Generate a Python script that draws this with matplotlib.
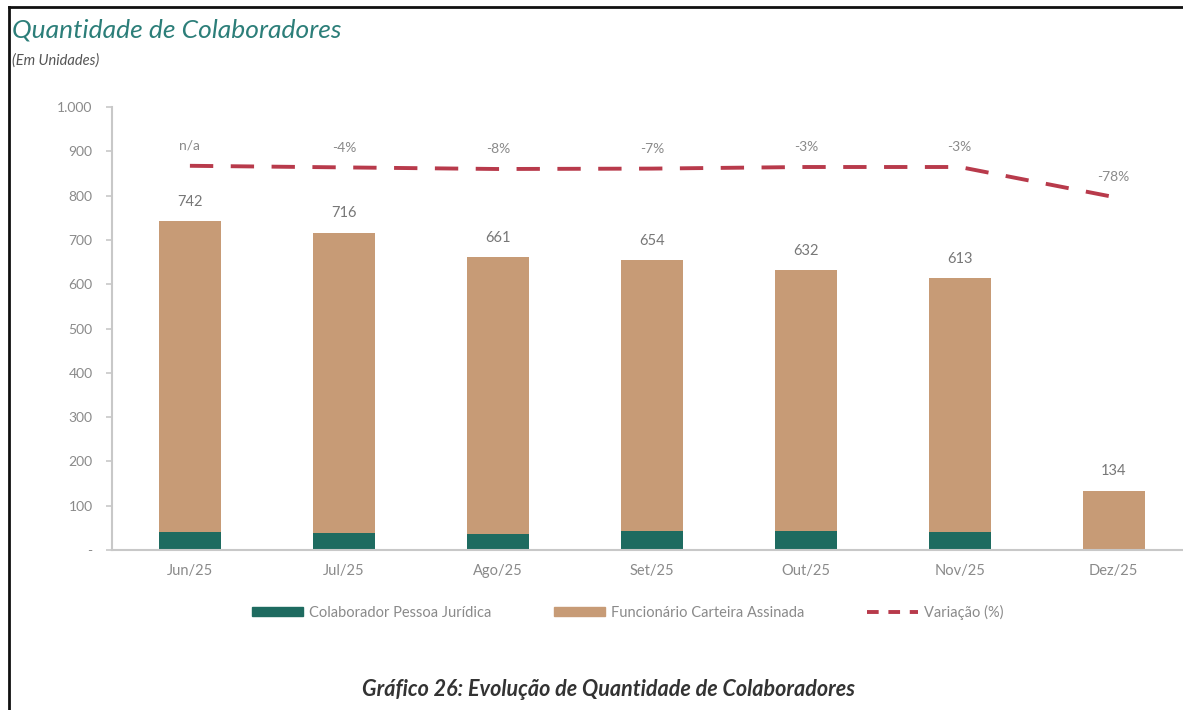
import matplotlib
matplotlib.use("Agg")
import matplotlib.pyplot as plt
from matplotlib.lines import Line2D
from matplotlib.patches import Patch
import numpy as np

plt.rcParams['font.family'] = ['Lato', 'DejaVu Sans']

categories = ['Jun/25', 'Jul/25', 'Ago/25', 'Set/25', 'Out/25', 'Nov/25', 'Dez/25']
pessoa_juridica = [41, 38, 36, 42, 42, 41, 0]
totais = [742, 716, 661, 654, 632, 613, 134]
carteira_assinada = [t - p for t, p in zip(totais, pessoa_juridica)]
variacao = [0, -4, -8, -7, -3, -3, -78]
variacao_labels = ['n/a', '-4%', '-8%', '-7%', '-3%', '-3%', '-78%']
yticks = [0, 100, 200, 300, 400, 500, 600, 700, 800, 900, 1000]
ytick_labels = ['-', '100', '200', '300', '400', '500', '600', '700', '800', '900', '1.000']

TEAL = '#1E6B60'
TAN = '#C79B76'
RED = '#B83A4B'
GRAY = '#8a8a8a'

W, H = 1183, 710
fig = plt.figure(figsize=(W / 100, H / 100), dpi=100)

ax = fig.add_axes([112 / W, (H - 550) / H, (W - 112) / W, 443 / H])
x = np.arange(len(categories))
bw = 0.40
ax.bar(x, pessoa_juridica, bw, color=TEAL, zorder=2)
ax.bar(x, carteira_assinada, bw, bottom=pessoa_juridica, color=TAN, zorder=2)
for xi, t in zip(x, totais):
    ax.annotate(f'{t}', (xi, t), xytext=(0, 9), textcoords='offset points',
                ha='center', va='bottom', fontsize=10.5, color='#777777')

ax.set_xlim(-0.506, 6.45)
ax.set_ylim(0, 1000)
ax.set_yticks(yticks)
ax.set_yticklabels(ytick_labels)
ax.set_xticks(x)
ax.set_xticklabels(categories)
for s in ['top', 'right']:
    ax.spines[s].set_visible(False)
for s in ['left', 'bottom']:
    ax.spines[s].set_color('#c8c8c8')
    ax.spines[s].set_linewidth(1.5)
ax.tick_params(axis='y', colors='#c8c8c8', length=4, width=1.2, labelcolor=GRAY,
               labelsize=10, pad=10)
ax.tick_params(axis='x', length=0, labelcolor=GRAY, labelsize=10.5, pad=10)

ax2 = ax.twinx()
ax2.set_ylim(-960.5, 147)
ax2.plot(x, variacao, color=RED, lw=2.8, dashes=(6, 4.5), zorder=3)
for xi, v, lab in zip(x, variacao, variacao_labels):
    ax2.annotate(lab, (xi, v), xytext=(0, 10), textcoords='offset points',
                 ha='center', va='bottom', fontsize=10, color=GRAY)
ax2.axis('off')

handles = [Patch(color=TEAL), Patch(color=TAN),
           Line2D([0], [0], color=RED, lw=2.8, dashes=(3, 2.5))]
labels = ['Colaborador Pessoa Jurídica', 'Funcionário Carteira Assinada', 'Variação (%)']
fig.legend(handles, labels, loc='center', bbox_to_anchor=(628 / W, (H - 612) / H),
           ncol=3, frameon=False, fontsize=10.5, labelcolor=GRAY,
           handlelength=3.5, handleheight=0.55, columnspacing=4.3, handletextpad=0.4)

fig.text(12 / W, (H - 30) / H, 'Quantidade de Colaboradores', fontsize=19,
         style='italic', color='#2C7E79', va='center', ha='left')
fig.text(12 / W, (H - 61) / H, '(Em Unidades)', fontsize=10.5, style='italic',
         color='#555555', va='center', ha='left')
fig.text(608 / W, (H - 690) / H, 'Gráfico 26: Evolução de Quantidade de Colaboradores',
         fontsize=15.5, style='italic', weight='bold', color='#333333',
         va='center', ha='center')

# page frame lines
fig.add_artist(Line2D([9 / W, 1], [(H - 7) / H, (H - 7) / H], color='#111111', lw=2))
fig.add_artist(Line2D([9 / W, 9 / W], [0, (H - 7) / H], color='#111111', lw=2))

fig.savefig('out.png', dpi=100)
